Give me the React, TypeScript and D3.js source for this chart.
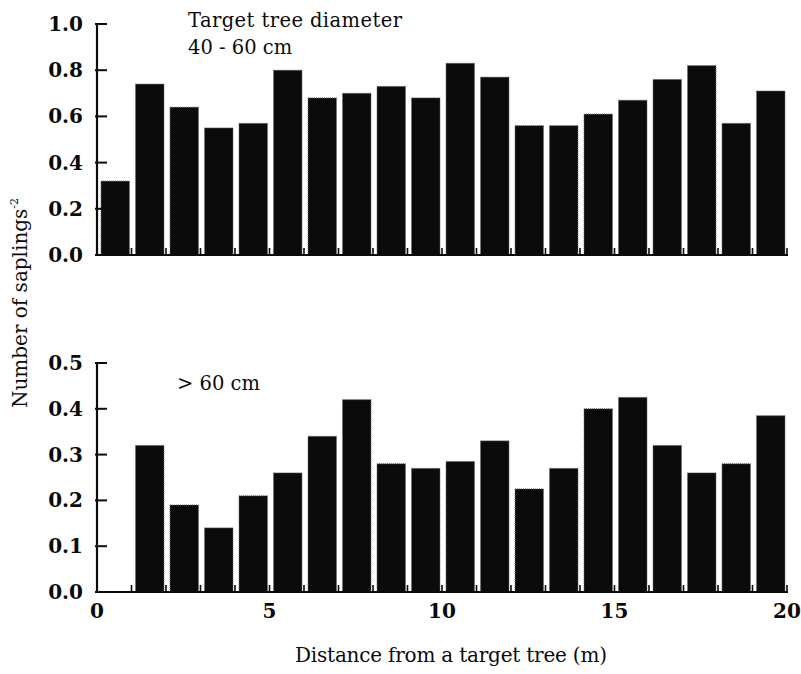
import React from "react";
import * as d3 from "d3";

// bin start (m) for each 1 m distance class
const binStarts = [0, 1, 2, 3, 4, 5, 6, 7, 8, 9, 10, 11, 12, 13, 14, 15, 16, 17, 18, 19];
// 40 - 60 cm target trees
const midValues = [0.32, 0.74, 0.64, 0.55, 0.57, 0.8, 0.68, 0.7, 0.73, 0.68, 0.83, 0.77, 0.56, 0.56, 0.61, 0.67, 0.76, 0.82, 0.57, 0.71];
// > 60 cm target trees (no bar in the first class)
const bigValues = [null, 0.32, 0.19, 0.14, 0.21, 0.26, 0.34, 0.42, 0.28, 0.27, 0.285, 0.33, 0.225, 0.27, 0.4, 0.425, 0.32, 0.26, 0.28, 0.385];

const topTicks = [0, 0.2, 0.4, 0.6, 0.8, 1.0];
const bottomTicks = [0, 0.1, 0.2, 0.3, 0.4, 0.5];
const xMinorTicks = [0, 1, 2, 3, 4, 5, 6, 7, 8, 9, 10, 11, 12, 13, 14, 15, 16, 17, 18, 19, 20];
const xLabelTicks = [0, 5, 10, 15, 20];

const W = 801;
const H = 674;
const serif = "'DejaVu Serif', 'Liberation Serif', serif";
const ink = "#0b0b0b";

const x = d3.scaleLinear().domain([0, 20]).range([97, 787]);
const yTop = d3.scaleLinear().domain([0, 1]).range([255, 24]);
const yBot = d3.scaleLinear().domain([0, 0.5]).range([592, 363]);

type Panel = {
  y: d3.ScaleLinear<number, number>;
  values: (number | null)[];
  ticks: number[];
};

const Bars = ({ y, values, ticks }: Panel) => {
  const base = y(0);
  return (
    <g>
      {values.map((v, i) =>
        v == null ? null : (
          <rect
            key={i}
            x={x(binStarts[i]) + 4}
            y={y(v)}
            width={x(binStarts[i] + 1) - x(binStarts[i]) - 6}
            height={base - y(v)}
            fill={ink}
            stroke="#6a6a6a"
            strokeWidth={1}
            strokeDasharray="1,1"
          />
        )
      )}
      {/* axes */}
      <line x1={x(0)} x2={x(0)} y1={y.range()[1] - 1} y2={base + 1} stroke={ink} strokeWidth={2.2} />
      <line x1={x(0) - 1} x2={x(20) + 1} y1={base} y2={base} stroke={ink} strokeWidth={2.2} />
      {ticks.map((t) => (
        <g key={t}>
          <line x1={x(0) - 2} x2={x(0) + 10} y1={y(t)} y2={y(t)} stroke={ink} strokeWidth={2} />
          <text
            x={83}
            y={y(t) + 7}
            textAnchor="end"
            fontFamily={serif}
            fontWeight="bold"
            fontSize={20}
            fill={ink}
          >
            {t.toFixed(1)}
          </text>
        </g>
      ))}
      {xMinorTicks.map((t) => (
        <line key={t} x1={x(t)} x2={x(t)} y1={base} y2={base - 7} stroke={ink} strokeWidth={1.6} />
      ))}
    </g>
  );
};

export default function App() {
  return (
    <div style={{ position: "absolute", left: 0, top: 0 }}>
      <svg width={W} height={H} style={{ display: "block", background: "#fff" }}>
        <Bars y={yTop} values={midValues} ticks={topTicks} />
        <Bars y={yBot} values={bigValues} ticks={bottomTicks} />

        {xLabelTicks.map((t) => (
          <text
            key={t}
            x={x(t)}
            y={618}
            textAnchor="middle"
            fontFamily={serif}
            fontWeight="bold"
            fontSize={20}
            fill={ink}
          >
            {t}
          </text>
        ))}

        <text x={188} y={27} fontFamily={serif} fontSize={19.5} fill={ink} textLength={214}>
          Target tree diameter
        </text>
        <text x={188} y={54} fontFamily={serif} fontSize={19.5} fill={ink}>
          40 - 60 cm
        </text>
        <text x={177} y={390} fontFamily={serif} fontSize={19.5} fill={ink}>
          &gt; 60 cm
        </text>

        <text
          x={451}
          y={662}
          textAnchor="middle"
          fontFamily={serif}
          fontSize={20}
          fill={ink}
          textLength={312}
        >
          Distance from a target tree (m)
        </text>

        <text
          transform="translate(27,303) rotate(-90)"
          textAnchor="middle"
          fontFamily={serif}
          fontSize={20}
          fill={ink}
        >
          Number of saplings
          <tspan dy={-9} fontSize={11}>
            -2
          </tspan>
        </text>
      </svg>
    </div>
  );
}
